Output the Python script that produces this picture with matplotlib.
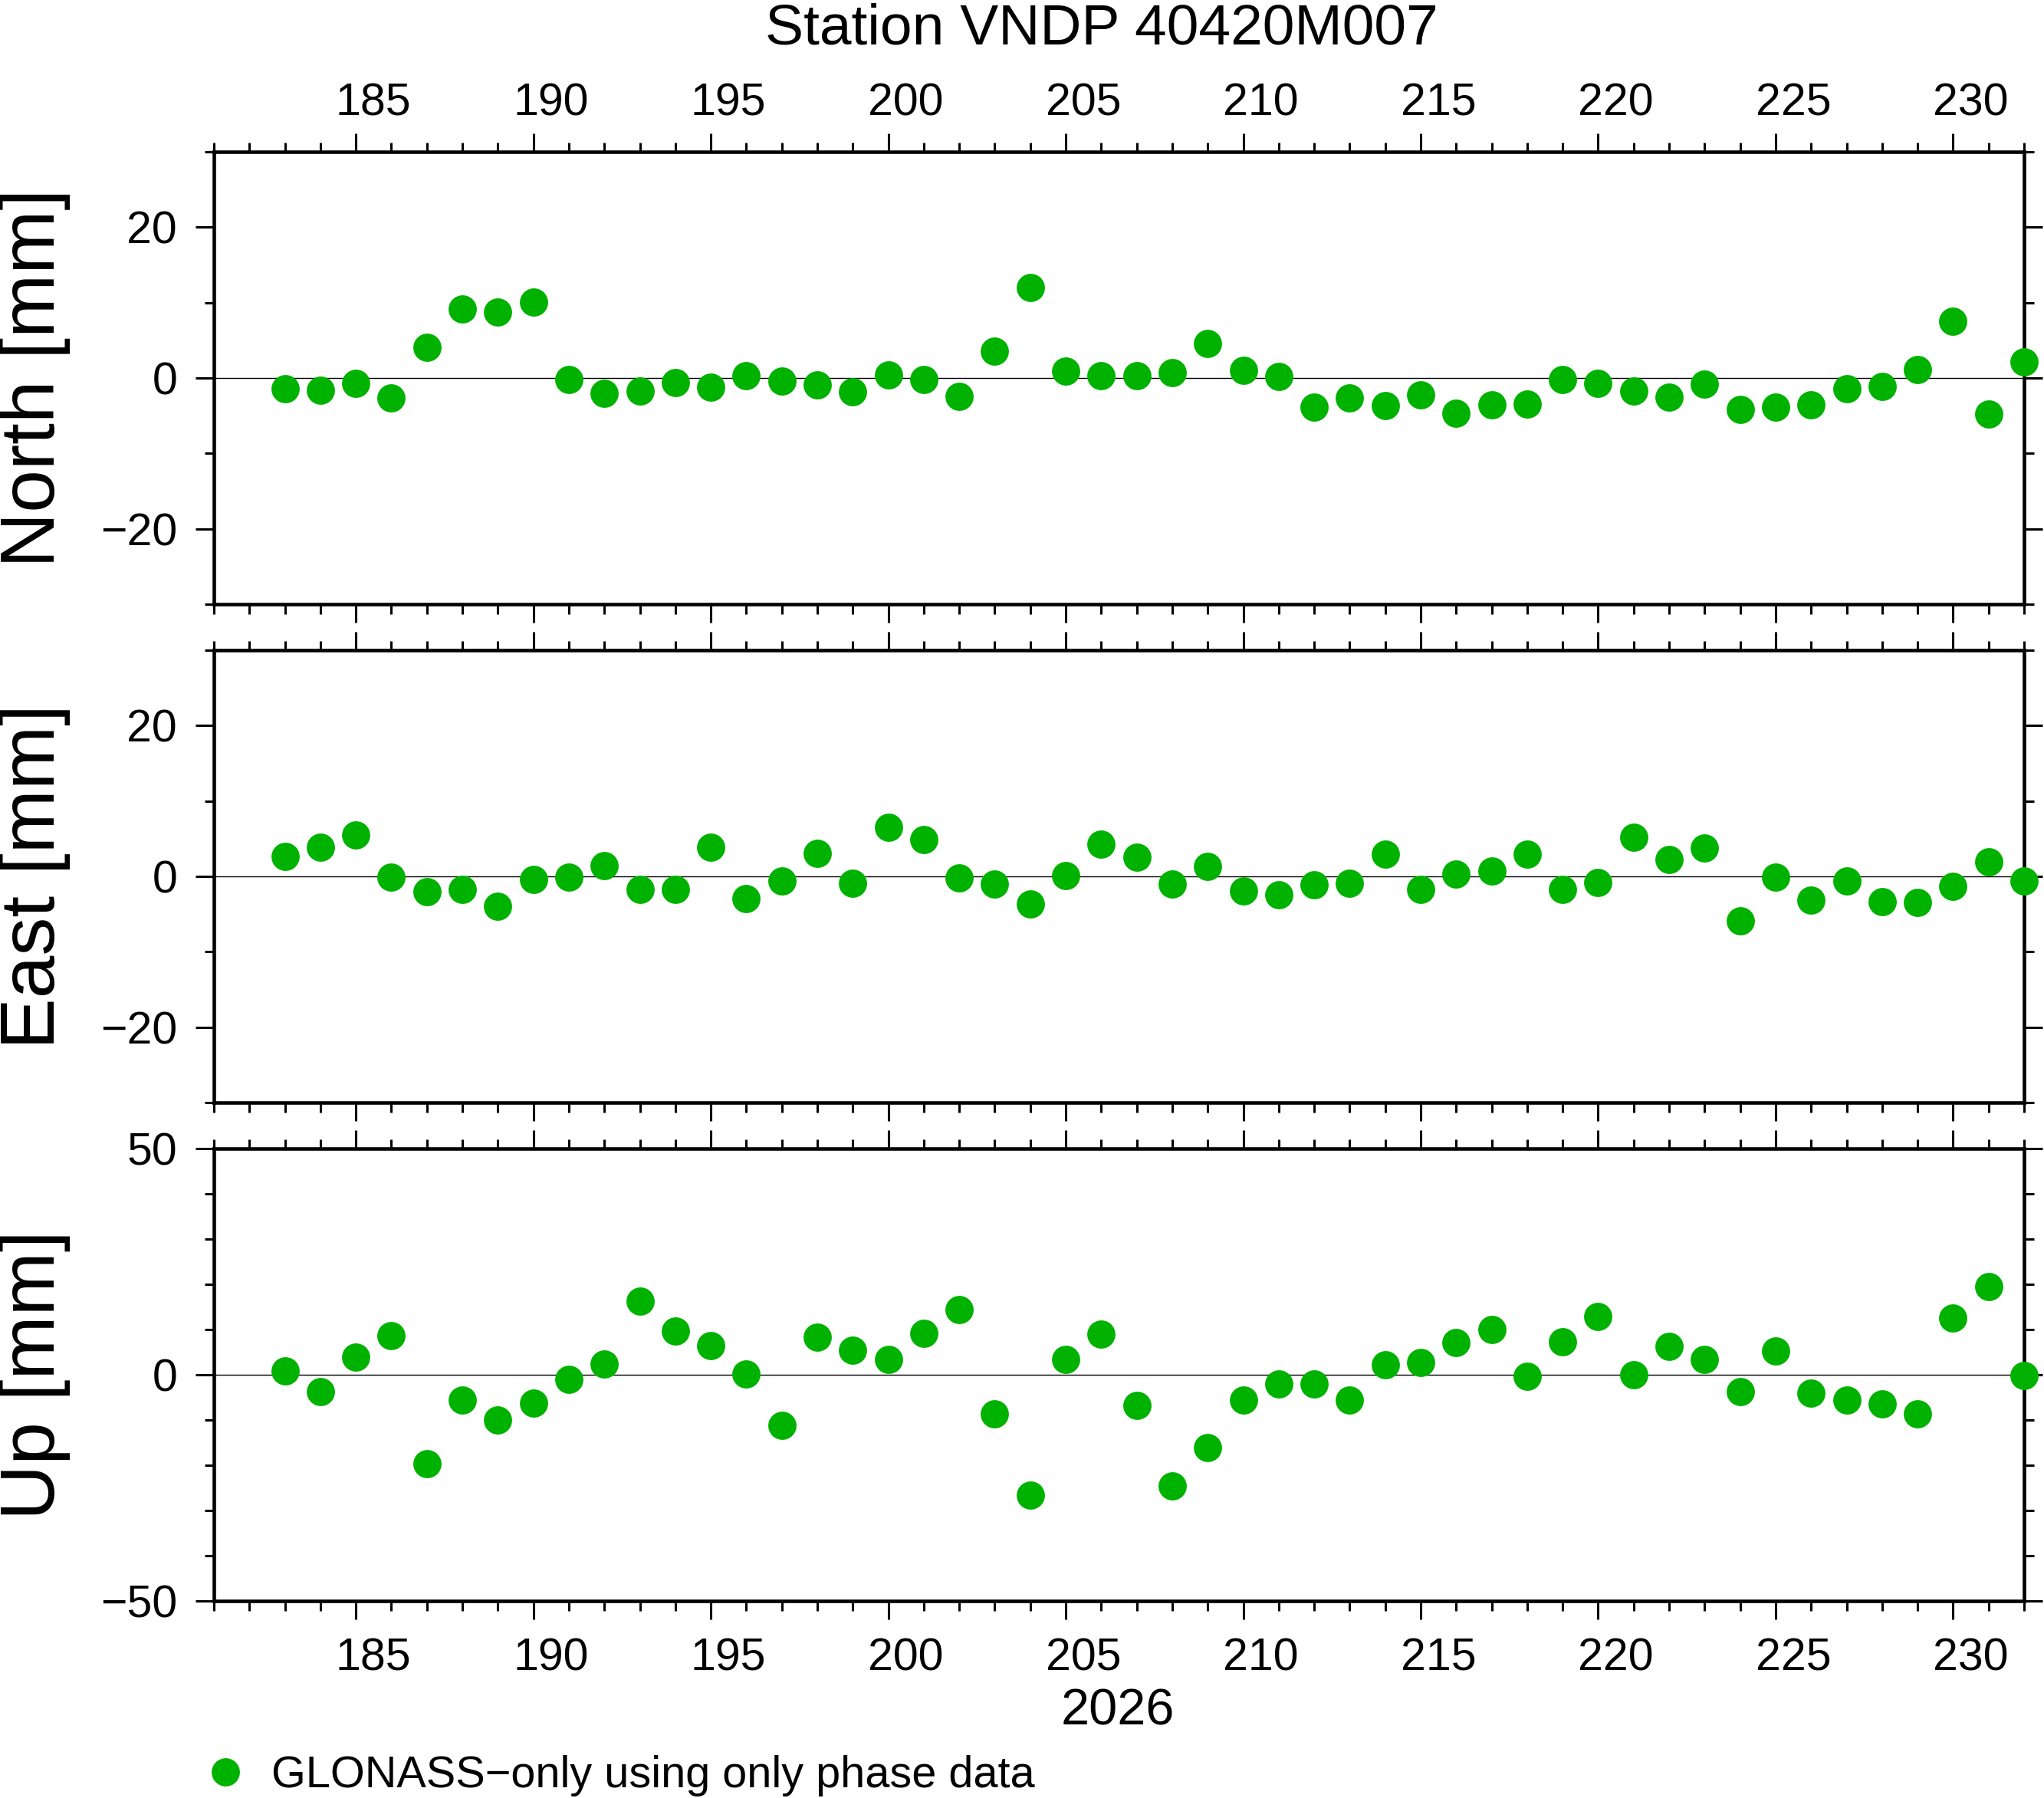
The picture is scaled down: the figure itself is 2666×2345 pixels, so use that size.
import matplotlib
matplotlib.use("Agg")
import matplotlib.pyplot as plt
from matplotlib.ticker import MultipleLocator
from matplotlib.transforms import ScaledTranslation

plt.rcParams['font.family'] = ['Liberation Sans', 'DejaVu Sans']

# ---------------- data ----------------
days = list(range(183, 233))

north = [-1.4, -1.6, -0.7, -2.6, 4.1, 9.2, 8.7, 10.1, -0.2, -2.0,
         -1.7, -0.6, -1.2, 0.3, -0.4, -0.9, -1.8, 0.4, -0.2, -2.4,
         3.6, 12.0, 0.9, 0.3, 0.3, 0.7, 4.6, 1.0, 0.2, -3.9,
         -2.6, -3.7, -2.2, -4.7, -3.6, -3.5, -0.2, -0.7, -1.7, -2.5,
         -0.8, -4.2, -3.9, -3.6, -1.4, -1.1, 1.1, 7.5, -4.8, 2.1]

east = [2.6, 3.9, 5.5, -0.1, -2.0, -1.7, -4.0, -0.4, -0.1, 1.4,
        -1.7, -1.7, 3.9, -3.0, -0.6, 3.0, -0.9, 6.5, 4.9, -0.2,
        -1.0, -3.7, 0.1, 4.3, 2.5, -1.0, 1.3, -1.9, -2.4, -1.1,
        -0.9, 2.9, -1.7, 0.3, 0.7, 2.9, -1.7, -0.8, 5.2, 2.2,
        3.8, -5.9, -0.1, -3.2, -0.6, -3.4, -3.5, -1.3, 1.9, -0.6]

up = [0.9, -3.7, 3.9, 8.6, -19.6, -5.6, -10.0, -6.3, -1.0, 2.4,
      16.2, 9.6, 6.4, 0.2, -11.2, 8.3, 5.4, 3.4, 9.1, 14.4,
      -8.6, -26.6, 3.4, 8.9, -6.8, -24.6, -16.1, -5.6, -2.0, -2.0,
      -5.6, 2.2, 2.7, 7.1, 10.0, -0.3, 7.3, 12.9, 0.0, 6.3,
      3.4, -3.7, 5.3, -4.1, -5.6, -6.4, -8.6, 12.5, 19.5, -0.2]

panel_labels = ["North [mm]", "East [mm]", "Up [mm]"]
panel_ylims = [(-30, 30), (-30, 30), (-50, 50)]
panel_major = [20, 20, 50]
panel_minor = [10, 10, 10]
title = "Station VNDP 40420M007"
year_label = "2026"
legend_label = "GLONASS\u2212only using only phase data"
xlim = (181, 232)

# ---------------- layout ----------------
W, H = 2666, 2345
fig = plt.figure(figsize=(W / 100, H / 100), dpi=100)

left_px, right_px = 279, 2640
panel_px = [(198, 788), (848, 1438), (1498, 2088)]
green = '#00b200'

axes = []
for i, (top, bot) in enumerate(panel_px):
    ax = fig.add_axes([left_px / W, 1 - bot / H, (right_px - left_px) / W, (bot - top) / H])
    axes.append(ax)

series = [north, east, up]
# x labels are centred half a day to the right of their tick (GMT interval style)
label_shift = ScaledTranslation(23 / 100, 0, fig.dpi_scale_trans)

for i, ax in enumerate(axes):
    top, bot = panel_px[i]
    ax.set_xlim(*xlim)
    ax.set_ylim(*panel_ylims[i])
    ax.axhline(0, color='black', lw=1.0, zorder=1)
    h, = ax.plot(days, series[i], 'o', color=green, markersize=26.5,
                 markeredgewidth=0, linestyle='none', clip_on=False, zorder=5)
    ax.xaxis.set_major_locator(MultipleLocator(5))
    ax.xaxis.set_minor_locator(MultipleLocator(1))
    ax.yaxis.set_major_locator(MultipleLocator(panel_major[i]))
    ax.yaxis.set_minor_locator(MultipleLocator(panel_minor[i]))
    for sp in ax.spines.values():
        sp.set_linewidth(3.3)
        sp.set_zorder(3)
    ax.tick_params(which='both', direction='out', top=True, right=True,
                   bottom=True, left=True, width=2.2, labelsize=42.5,
                   labelright=False, labeltop=(i == 0), labelbottom=(i == 2))
    ax.tick_params(which='major', length=17.5)
    ax.tick_params(which='minor', length=9)
    ax.tick_params(axis='x', which='major', pad=8)
    if i == 2:
        ax.tick_params(axis='x', which='major', pad=17)
    ax.tick_params(axis='y', which='major', pad=17)
    ax.set_facecolor('none')
    for t in ax.xaxis.get_major_ticks():
        t.label1.set_transform(t.label1.get_transform() + label_shift)
        t.label2.set_transform(t.label2.get_transform() + label_shift)
    fig.text(45 / W, 1 - (top + bot) / 2 / H, panel_labels[i], rotation=90,
             ha='center', va='center', fontsize=72)

fig.text(1437 / W, 1 - 38 / H, title, ha='center', va='center', fontsize=54)
fig.text(1458 / W, 1 - 2233 / H, year_label, ha='center', va='center', fontsize=48)

fig.legend(handles=[h], labels=[legend_label], loc='center left',
           bbox_to_anchor=(270 / W, 1 - 2316 / H), frameon=False,
           fontsize=41.5, handlelength=0.82, handletextpad=0.64,
           borderpad=0, borderaxespad=0, numpoints=1, markerscale=1.0)

fig.savefig('out.png', dpi=100, facecolor='white')
